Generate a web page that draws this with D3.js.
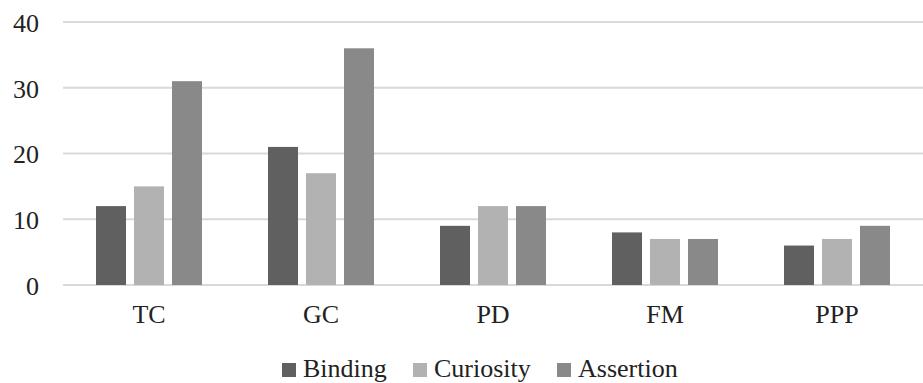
<!DOCTYPE html>
<html>
<head>
<meta charset="utf-8">
<script src="https://cdn.jsdelivr.net/npm/d3@7"></script>
<style>
  body { margin: 0; background: #fff; }
  svg text { font-family: "Liberation Serif", "Times New Roman", serif; fill: #222; }
</style>
</head>
<body>
<svg id="drawing_region"></svg>
<script>
const categories = ['TC', 'GC', 'PD', 'FM', 'PPP'];
const seriesNames = ['Binding', 'Curiosity', 'Assertion'];
const binding = [12, 21, 9, 8, 6];
const curiosity = [15, 17, 12, 7, 7];
const assertion = [31, 36, 12, 7, 9];
const yTicks = [0, 10, 20, 30, 40];
const colors = ['#5f605f', '#b2b2b2', '#898989'];

const values = [binding, curiosity, assertion];
const data = categories.map((c, i) => ({
    cat: c,
    vals: seriesNames.map((s, j) => ({ key: s, value: values[j][i] }))
}));

const width = 923, height = 383;
const margin = { top: 22, right: 0, bottom: 98, left: 63 };
const inner_width = width - margin.left - margin.right;
const inner_height = height - margin.top - margin.bottom;
const fontSize = 26;

const svg = d3.select('#drawing_region')
    .attr('width', width)
    .attr('height', height);

const chart = svg.append('g')
    .attr('transform', `translate(${margin.left}, ${margin.top})`);

const xscale = d3.scaleBand()
    .domain(categories)
    .range([0, inner_width]);

const yscale = d3.scaleLinear()
    .domain([0, 40])
    .range([inner_height, 0]);

// bars: 30px wide, 8px apart, centred in band
const barW = 30, gap = 8;
const groupW = barW * 3 + gap * 2;
const xsub = d3.scaleBand()
    .domain(seriesNames)
    .range([0, groupW + gap]);

// gridlines
chart.append('g')
    .selectAll('line')
    .data(yTicks)
    .join('line')
    .attr('x1', 0)
    .attr('x2', inner_width)
    .attr('y1', d => yscale(d))
    .attr('y2', d => yscale(d))
    .attr('stroke', '#d9d9d9')
    .attr('stroke-width', 2);

// y axis labels
const yaxis = d3.axisLeft(yscale).tickValues(yTicks).tickSize(0).tickPadding(24);
chart.append('g')
    .call(yaxis)
    .call(g => g.select('.domain').remove())
    .call(g => g.selectAll('text').attr('font-size', fontSize).attr('dy', '0.36em'));

// bars
const groups = chart.append('g')
    .selectAll('g')
    .data(data)
    .join('g')
    .attr('transform', d => `translate(${xscale(d.cat) + (xscale.bandwidth() - groupW) / 2}, 0)`);

groups.selectAll('rect')
    .data(d => d.vals)
    .join('rect')
    .attr('x', d => xsub(d.key))
    .attr('y', d => yscale(d.value))
    .attr('width', barW)
    .attr('height', d => yscale(0) - yscale(d.value))
    .attr('fill', (d, i) => colors[i]);

// x axis labels
const xaxis = d3.axisBottom(xscale).tickSize(0).tickPadding(20);
chart.append('g')
    .attr('transform', `translate(0, ${inner_height})`)
    .call(xaxis)
    .call(g => g.select('.domain').remove())
    .call(g => g.selectAll('text').attr('font-size', fontSize));

// legend
const legendX = [282, 413, 557];
const legend = svg.append('g')
    .selectAll('g')
    .data(seriesNames)
    .join('g')
    .attr('transform', (d, i) => `translate(${legendX[i]}, 377)`);

legend.append('rect')
    .attr('x', 0)
    .attr('y', -14)
    .attr('width', 14)
    .attr('height', 14)
    .attr('fill', (d, i) => colors[i]);

legend.append('text')
    .attr('x', 21)
    .attr('y', 0)
    .attr('font-size', fontSize)
    .text(d => d);
</script>
</body>
</html>
